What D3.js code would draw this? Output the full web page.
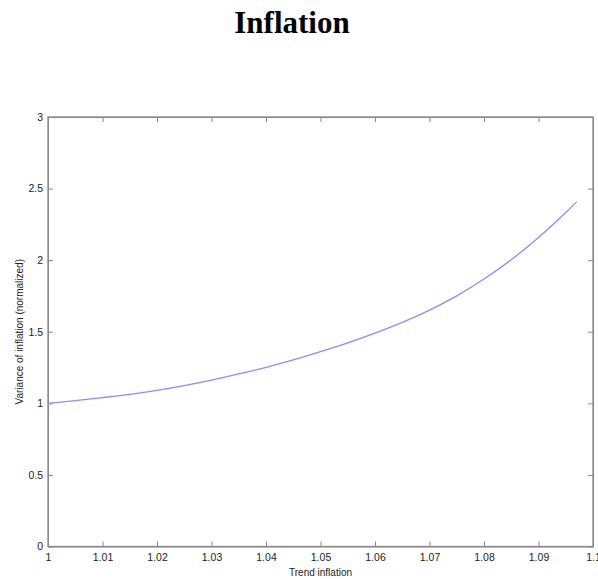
<!DOCTYPE html>
<html>
<head>
<meta charset="utf-8">
<script src="https://cdn.jsdelivr.net/npm/d3@7"></script>
<style>
  body { margin: 0; background: #fff; }
  .axis text { font-family: "Liberation Sans", Arial, sans-serif; font-size: 10.5px; fill: #222; }
  .axis path, .axis line { stroke: #888; }
</style>
</head>
<body>
<div id="chart"></div>
<script>
// trend inflation (x) and normalized variance of inflation (y)
const trendInflation = [1.000, 1.005, 1.010, 1.015, 1.020, 1.025, 1.030, 1.035, 1.040, 1.045,
                        1.050, 1.055, 1.060, 1.065, 1.070, 1.075, 1.080, 1.085, 1.090, 1.095, 1.097];
const varianceNorm = [1.000, 1.019, 1.040, 1.063, 1.091, 1.124, 1.162, 1.205, 1.252, 1.304,
                      1.362, 1.423, 1.490, 1.565, 1.651, 1.751, 1.868, 2.003, 2.158, 2.333, 2.407];
const xTicks = [1, 1.01, 1.02, 1.03, 1.04, 1.05, 1.06, 1.07, 1.08, 1.09, 1.1];
const yTicks = [0, 0.5, 1, 1.5, 2, 2.5, 3];

const width = 598, height = 579;
const margin = { top: 117, right: 5, bottom: 32.5, left: 48 };
const innerW = width - margin.left - margin.right;
const innerH = height - margin.top - margin.bottom;

const svg = d3.select("#chart")
    .append("svg")
    .attr("width", width)
    .attr("height", height);

// Title
svg.append("text")
    .attr("x", 292)
    .attr("y", 33)
    .attr("text-anchor", "middle")
    .style("font-family", "'Liberation Serif', 'Times New Roman', serif")
    .style("font-weight", "bold")
    .style("font-size", "31px")
    .text("Inflation");

const g = svg.append("g")
    .attr("transform", `translate(${margin.left},${margin.top})`);

const x = d3.scaleLinear().domain([1, 1.1]).range([0, innerW]);
const y = d3.scaleLinear().domain([0, 3]).range([innerH, 0]);

const fmt = d => String(+d.toFixed(2));

// Bottom and left axes with inward ticks
g.append("g")
    .attr("class", "axis")
    .attr("transform", `translate(0,${innerH})`)
    .call(d3.axisBottom(x).tickValues(xTicks).tickFormat(fmt).tickSizeInner(-5).tickSizeOuter(0).tickPadding(7));

g.append("g")
    .attr("class", "axis")
    .call(d3.axisLeft(y).tickValues(yTicks).tickFormat(fmt).tickSizeInner(-5).tickSizeOuter(0).tickPadding(5));

// Top and right mirrored ticks, no labels
g.append("g")
    .attr("class", "axis")
    .call(d3.axisTop(x).tickValues(xTicks).tickFormat("").tickSizeInner(-5).tickSizeOuter(0));

g.append("g")
    .attr("class", "axis")
    .attr("transform", `translate(${innerW},0)`)
    .call(d3.axisRight(y).tickValues(yTicks).tickFormat("").tickSizeInner(-5).tickSizeOuter(0));

// Frame
g.append("rect")
    .attr("width", innerW)
    .attr("height", innerH)
    .attr("fill", "none")
    .attr("stroke", "#888")
    .attr("stroke-width", 1.3);

// Curve
const line = d3.line()
    .x((d, i) => x(trendInflation[i]))
    .y(d => y(d))
    .curve(d3.curveMonotoneX);

g.append("path")
    .datum(varianceNorm)
    .attr("d", line)
    .attr("fill", "none")
    .attr("stroke", "#8c8cff")
    .attr("stroke-width", 1.3);

// Axis labels
svg.append("text")
    .attr("x", margin.left + innerW / 2)
    .attr("y", 576)
    .attr("text-anchor", "middle")
    .style("font-family", "'Liberation Sans', Arial, sans-serif")
    .style("font-size", "10px")
    .style("fill", "#222")
    .text("Trend inflation");

svg.append("text")
    .attr("transform", `translate(23,${margin.top + innerH / 2}) rotate(-90)`)
    .attr("text-anchor", "middle")
    .style("font-family", "'Liberation Sans', Arial, sans-serif")
    .style("font-size", "10px")
    .style("fill", "#222")
    .text("Variance of inflation (normalized)");
</script>
</body>
</html>
